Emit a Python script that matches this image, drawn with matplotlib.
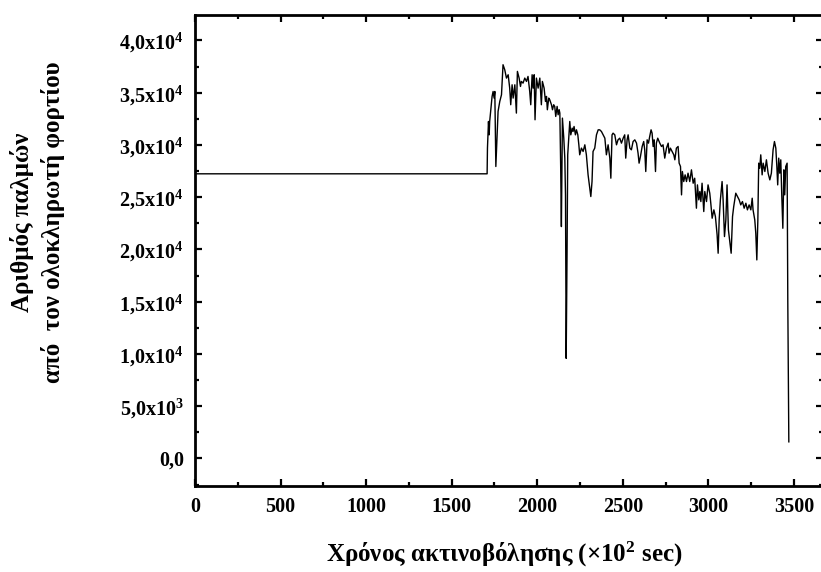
import matplotlib
matplotlib.use("Agg")
import matplotlib.pyplot as plt
from matplotlib.ticker import MultipleLocator

plt.rcParams['font.family'] = ['Liberation Serif', 'DejaVu Serif']
plt.rcParams['font.weight'] = 'bold'
plt.rcParams['mathtext.default'] = 'regular'

# irradiation time (x10^2 s) and counts from the charge integrator
time = [0, 1707, 1709, 1715, 1719, 1722, 1736, 1742, 1748, 1752, 1758,
        1765, 1771, 1781, 1791, 1800, 1810, 1820, 1830, 1839, 1845,
        1853, 1859, 1869, 1878, 1884, 1894, 1902, 1907, 1917, 1927,
        1937, 1946, 1956, 1962, 1970, 1976, 1982, 1987, 1995, 2005,
        2015, 2024, 2030, 2040, 2048, 2054, 2059, 2067, 2073, 2083,
        2089, 2096, 2102, 2108, 2116, 2122, 2128, 2132, 2137, 2141,
        2147, 2155, 2161, 2165, 2169, 2174, 2178, 2184, 2190, 2196,
        2204, 2209, 2215, 2223, 2229, 2237, 2243, 2248, 2258, 2268,
        2278, 2287, 2297, 2307, 2313, 2320, 2326, 2336, 2346, 2356,
        2365, 2375, 2385, 2395, 2404, 2414, 2424, 2430, 2437, 2443,
        2453, 2463, 2472, 2482, 2492, 2502, 2511, 2517, 2525, 2531,
        2541, 2550, 2560, 2570, 2580, 2589, 2595, 2603, 2613, 2622,
        2628, 2634, 2642, 2650, 2657, 2665, 2671, 2677, 2683, 2691,
        2696, 2704, 2716, 2726, 2735, 2745, 2755, 2765, 2770, 2778,
        2788, 2798, 2804, 2813, 2823, 2829, 2837, 2843, 2848, 2856,
        2864, 2872, 2881, 2891, 2901, 2911, 2920, 2930, 2936, 2944,
        2950, 2956, 2963, 2973, 2979, 2989, 2998, 3008, 3014, 3022,
        3032, 3041, 3051, 3057, 3063, 3070, 3080, 3086, 3094, 3102,
        3109, 3117, 3125, 3133, 3141, 3148, 3160, 3170, 3180, 3189,
        3199, 3209, 3219, 3228, 3238, 3248, 3256, 3261, 3271, 3277,
        3283, 3289, 3294, 3300, 3306, 3314, 3320, 3330, 3339, 3349,
        3359, 3368, 3378, 3386, 3394, 3400, 3405, 3411, 3417, 3423,
        3429, 3435, 3441, 3446, 3452, 3460, 3464, 3470]
counts = [27240, 27240, 29700, 32250, 30970, 32250, 34640, 35120, 34485, 35120, 27940,
          30650, 33210, 34165, 34805, 37680, 37200, 36400, 36720, 35440, 33850,
          35760, 34485, 35760, 33050, 37040, 36400, 35600, 36080, 35920, 36400,
          36080, 36560, 35120, 33850, 36720, 35440, 36720, 32410, 36400, 35440,
          36400, 33850, 36080, 35440, 34165, 34645, 33370, 34485, 34325, 33850,
          33370, 33850, 33690, 32730, 33690, 32890, 33370, 33050, 27780, 22190,
          32570, 30650, 28740, 25225, 9580, 19480, 29060, 30650, 32250, 30970,
          31610, 31290, 31770, 30970, 31450, 30970, 30015, 29060, 29700, 29380,
          30015, 29060, 27140, 25865, 25065, 26500, 29380, 29700, 30970, 31450,
          31450, 31290, 30970, 30650, 29060, 30015, 28740, 26820, 30970, 31130,
          30970, 30015, 30495, 30650, 30175, 30650, 30970, 28740, 30495, 30970,
          29700, 29535, 30330, 30490, 30175, 29215, 28260, 28900, 29855, 30330,
          29535, 27460, 30490, 30175, 30810, 31450, 31130, 29855, 30490, 27460,
          30175, 30650, 30175, 29855, 30015, 28740, 29695, 30175, 29215, 29695,
          29375, 29055, 28580, 29695, 29855, 28260, 27940, 25225, 27460, 26500,
          27140, 26500, 27300, 26500, 27620, 26340, 26820, 23950, 26180, 24745,
          25545, 24585, 26340, 23630, 25545, 24585, 26180, 25385, 24425, 22990,
          23790, 23150, 21390, 19640, 22830, 24745, 26500, 24745, 21235, 22830,
          26180, 21870, 20755, 19640, 23150, 24110, 25385, 25065, 24745, 24265,
          24585, 23950, 24425, 23790, 24265, 23790, 24905, 23790, 22830, 21550,
          19000, 22830, 28260, 27780, 29055, 27140, 28260, 27460, 28580, 27300,
          26660, 27300, 29535, 30330, 29695, 27940, 26180, 28740, 27300, 28580,
          25065, 22030, 27620, 25225, 27940, 28260, 15000, 1590]

xticks = [0, 500, 1000, 1500, 2000, 2500, 3000, 3500]
yticks = [0, 5000, 10000, 15000, 20000, 25000, 30000, 35000, 40000]
ytick_labels = ['0,0', r'5,0x10$^3$', r'1,0x10$^4$', r'1,5x10$^4$', r'2,0x10$^4$',
                r'2,5x10$^4$', r'3,0x10$^4$', r'3,5x10$^4$', r'4,0x10$^4$']

fig = plt.figure(figsize=(8.21, 5.72), dpi=100)
ax = fig.add_axes([0.2375, 0.151, 0.765, 0.823])

ax.plot(time, counts, color='black', lw=1.0)

ax.set_xlim(0, 3670)
ax.set_ylim(-2600, 42450)
ax.set_xticks(xticks)
ax.set_xticklabels([str(t) for t in xticks])
ax.set_yticks(yticks)
ax.set_yticklabels(ytick_labels)
ax.xaxis.set_minor_locator(MultipleLocator(250))
ax.yaxis.set_minor_locator(MultipleLocator(2500))

for s in ax.spines.values():
    s.set_linewidth(2.0)
ax.tick_params(which='both', direction='in', top=True, right=True, width=1.6,
               labelsize=14.5)
ax.tick_params(which='major', length=5, pad=8)
ax.tick_params(which='minor', length=3)

fig.text(0.614, 0.03, r'Χρόνος ακτινοβόλησης (×10$^2$ sec)', fontsize=18,
         fontweight='bold', ha='center', va='center')
fig.text(0.046, 0.612, 'Αριθμός παλμών\nαπό  τον ολοκληρωτή φορτίου',
         rotation=90, ha='center', va='center', fontsize=18,
         fontweight='bold', multialignment='center', linespacing=1.35)

fig.savefig('out.png', dpi=100)
